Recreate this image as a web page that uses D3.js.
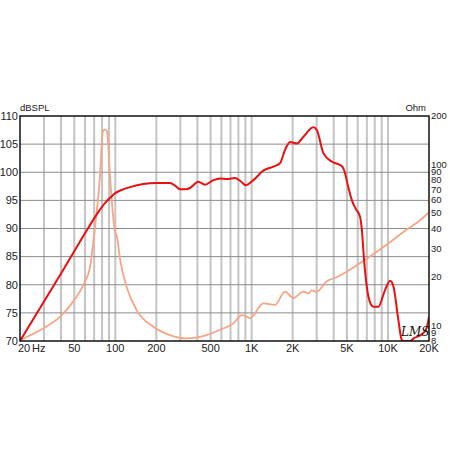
<!DOCTYPE html>
<html><head><meta charset="utf-8">
<script src="https://cdn.jsdelivr.net/npm/d3@7/dist/d3.min.js"></script>
<style>html,body{margin:0;padding:0;background:#fff;}svg{display:block;}</style>
</head><body>
<script>
const splFreq = [20,40,63,75,84,92,100,110,130,160,200,238,252,275,299,330,353,406,455,524,588,660,758,830,910,1030,1218,1444,1616,1760,1915,2143,2396,2836,3007,3360,3870,4580,4850,5100,5427,5800,6240,6450,6650,7185,7500,7820,8510,9530,10370,10970,11930,12620,13000,14520,15500,17200,19000,20000];
const splValues = [70,82,90,92.9,94.5,95.5,96.3,96.8,97.4,97.9,98.1,98.1,98.1,97.6,97.0,97.0,97.2,98.3,97.8,98.6,98.9,98.8,99.0,98.4,97.7,98.6,100.3,101.0,101.6,104.0,105.4,105.1,106.3,108.0,107.5,103.4,101.9,101.1,99.8,97.5,95.1,93.5,92.1,89.5,85,77.9,76.5,76.1,76.1,79.1,80.7,79.7,73.7,70.2,70,70,70.5,71,72,74.3];

const impFreq = [20,29.7,39.3,49.2,59.9,65,70.8,77,81,84,87,91.5,99,102.8,108.6,121,143,190,252,333,466,588,735,847,974,1218,1480,1760,2020,2396,2610,2760,3007,3530,4240,6760,9700,13500,17200,20000];
const impValues = [8.1,9.6,11.3,14.1,18.7,22.6,40,82,160,165,160,84,39,35.6,25.5,17.4,12.5,9.8,8.7,8.3,8.7,9.4,10.3,11.6,11.1,13.7,13.4,16.2,14.8,16.2,15.8,16.5,16.2,18.7,20,25.5,31.6,39,45,50.5];

const leftTicks = [70,75,80,85,90,95,100,105,110];
const rightTicks = [200,100,90,80,70,60,50,40,30,20,10,9,8];
const freqTicks = [50,100,200,500,1000,2000,5000,10000,20000];
const freqTickLabels = ["50","100","200","500","1K","2K","5K","10K","20K"];
const freqGrid = [30,40,50,60,70,80,90,100,200,300,400,500,600,700,800,900,1000,2000,3000,4000,5000,6000,7000,8000,9000,10000];

const W=450,H=450;
const L=20,R=429,T=116,B=341;
const svg=d3.select("body").append("svg").attr("width",W).attr("height",H);
const x=d3.scaleLog().domain([20,20000]).range([L,R]);
const y=d3.scaleLinear().domain([70,110]).range([B,T]);
const yR=d3.scaleLog().domain([8,200]).range([B,T]);
const font="Liberation Sans, Arial, sans-serif";

svg.append("g").selectAll("line").data(freqGrid).join("line")
  .attr("x1",d=>x(d)).attr("x2",d=>x(d)).attr("y1",T).attr("y2",B)
  .attr("stroke","#c4c4c4").attr("stroke-width",2);
svg.append("g").selectAll("line").data(leftTicks.slice(1,-1)).join("line")
  .attr("x1",L).attr("x2",R).attr("y1",d=>y(d)).attr("y2",d=>y(d))
  .attr("stroke","#8c8c8c").attr("stroke-width",1);

svg.append("defs").append("clipPath").attr("id","clip").append("rect")
  .attr("x",L).attr("y",T-2).attr("width",R-L).attr("height",B-T+2);

const imp=d3.zip(impFreq,impValues);
const spl=d3.zip(splFreq,splValues);
svg.append("path").datum(imp).attr("clip-path","url(#clip)")
  .attr("d",d3.line().x(d=>x(d[0])).y(d=>yR(d[1])).curve(d3.curveMonotoneX))
  .attr("fill","none").attr("stroke","#f9a585").attr("stroke-width",1.8);
svg.append("path").datum(spl).attr("clip-path","url(#clip)")
  .attr("d",d3.line().x(d=>x(d[0])).y(d=>y(d[1])).curve(d3.curveMonotoneX))
  .attr("fill","none").attr("stroke","#e81010").attr("stroke-width",2);

svg.append("rect").attr("x",L).attr("y",T).attr("width",R-L).attr("height",B-T)
  .attr("fill","none").attr("stroke","#111").attr("stroke-width",1.5);

svg.append("g").selectAll("text").data(leftTicks).join("text")
  .attr("x",18).attr("y",d=>y(d)).attr("dy","0.35em").attr("text-anchor","end")
  .attr("font-family",font).attr("font-size",11).attr("fill","#222").text(d=>d);
svg.append("g").selectAll("text").data(rightTicks).join("text")
  .attr("x",431).attr("y",d=>yR(d)).attr("dy","0.35em").attr("text-anchor","start")
  .attr("font-family",font).attr("font-size",9.5).attr("fill","#222").text(d=>d);
svg.append("g").selectAll("text").data(freqTicks).join("text")
  .attr("x",d=>x(d)).attr("y",352).attr("text-anchor","middle")
  .attr("font-family",font).attr("font-size",11).attr("fill","#222")
  .text((d,i)=>freqTickLabels[i]);
svg.append("text").attr("x",18).attr("y",352).attr("font-family",font).attr("font-size",11).attr("fill","#222").text("20");
svg.append("text").attr("x",32).attr("y",352).attr("font-family",font).attr("font-size",11).attr("fill","#222").text("Hz");
svg.append("text").attr("x",20).attr("y",111).attr("font-family",font).attr("font-size",9.5).attr("fill","#222").text("dBSPL");
svg.append("text").attr("x",426).attr("y",111).attr("text-anchor","end").attr("font-family",font).attr("font-size",9.5).attr("fill","#222").text("Ohm");
svg.append("text").attr("x",401).attr("y",336).attr("font-family","DejaVu Serif, serif").attr("font-style","italic").attr("font-size",12).attr("fill","#111").text("LMS");
</script>
</body></html>
